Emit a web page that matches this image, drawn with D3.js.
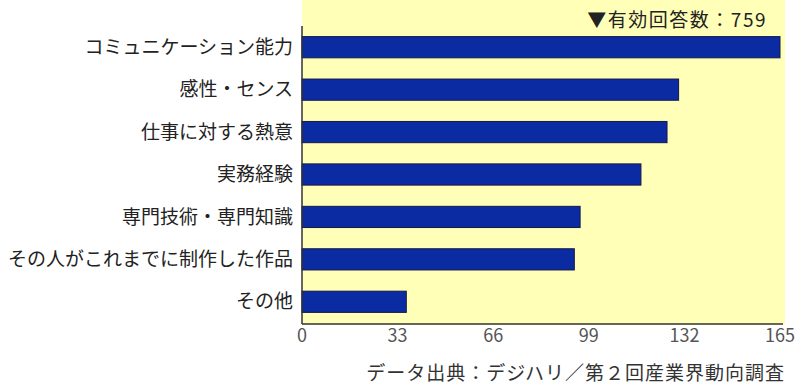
<!DOCTYPE html>
<html lang="ja">
<head>
<meta charset="utf-8">
<title>求められるスキル</title>
<script src="https://d3js.org/d3.v7.min.js"></script>
<style>
  body { margin: 0; background: #fff; }
  text { font-family: "Noto Sans CJK JP", sans-serif; }
</style>
</head>
<body>
<script>
// data
var categories = ["コミュニケーション能力", "感性・センス", "仕事に対する熱意", "実務経験",
                  "専門技術・専門知識", "その人がこれまでに制作した作品", "その他"];
var values = [165, 130, 126, 117, 96, 94, 36];
var tickValues = [0, 33, 66, 99, 132, 165];
var noteText = "▼有効回答数：759";
var sourceText = "データ出典：デジハリ／第２回産業界動向調査";

var width = 800, height = 387;
var plotLeft = 302, plotRight = 780, plotTop = 26, plotBottom = 323;

var svg = d3.select("body").append("svg")
    .attr("width", width)
    .attr("height", height);

// yellow plot background
svg.append("rect")
    .attr("x", plotLeft).attr("y", 0)
    .attr("width", 785 - plotLeft).attr("height", 325)
    .attr("fill", "#ffffb8");

var x = d3.scaleLinear().domain([0, 165]).range([plotLeft, plotRight]);
var y = d3.scaleBand().domain(categories).range([plotTop, plotBottom])
    .paddingInner(0.5).paddingOuter(0.25);

svg.selectAll(".bar")
    .data(values)
    .enter()
    .append("rect")
    .attr("class", "bar")
    .attr("x", x(0))
    .attr("y", function(d, i) { return y(categories[i]); })
    .attr("width", function(d) { return x(d) - x(0); })
    .attr("height", y.bandwidth())
    .attr("fill", "#0b2ba3")
    .attr("stroke", "#14184a")
    .attr("stroke-width", 1);

// category labels
svg.selectAll(".cat")
    .data(categories)
    .enter()
    .append("text")
    .attr("class", "cat")
    .attr("x", 293)
    .attr("y", function(d) { return y(d) + y.bandwidth() / 2; })
    .attr("dy", "0.35em")
    .attr("text-anchor", "end")
    .attr("font-size", 19)
    .attr("fill", "#222")
    .text(function(d) { return d; });

// axis lines
svg.append("line")
    .attr("x1", plotLeft).attr("x2", plotLeft)
    .attr("y1", plotTop).attr("y2", plotBottom + 1)
    .attr("stroke", "#333").attr("stroke-width", 1.5);
svg.append("line")
    .attr("x1", plotLeft).attr("x2", 783)
    .attr("y1", plotBottom + 1).attr("y2", plotBottom + 1)
    .attr("stroke", "#333").attr("stroke-width", 1.5);

// tick labels
svg.selectAll(".tick")
    .data(tickValues)
    .enter()
    .append("text")
    .attr("class", "tick")
    .attr("x", function(d) { return x(d); })
    .attr("y", 336)
    .attr("dy", "0.35em")
    .attr("text-anchor", "middle")
    .attr("font-family", "Liberation Sans, Arial, sans-serif")
    .attr("font-size", 18)
    .attr("fill", "#555")
    .text(function(d) { return d; });

svg.append("text")
    .attr("x", 767).attr("y", 20)
    .attr("dy", "0.35em")
    .attr("text-anchor", "end")
    .attr("font-size", 19)
    .attr("letter-spacing", 1.5)
    .attr("fill", "#222")
    .text(noteText);

svg.append("text")
    .attr("x", 785).attr("y", 373)
    .attr("dy", "0.35em")
    .attr("text-anchor", "end")
    .attr("font-size", 19)
    .attr("letter-spacing", 1)
    .attr("fill", "#333")
    .text(sourceText);
</script>
</body>
</html>
